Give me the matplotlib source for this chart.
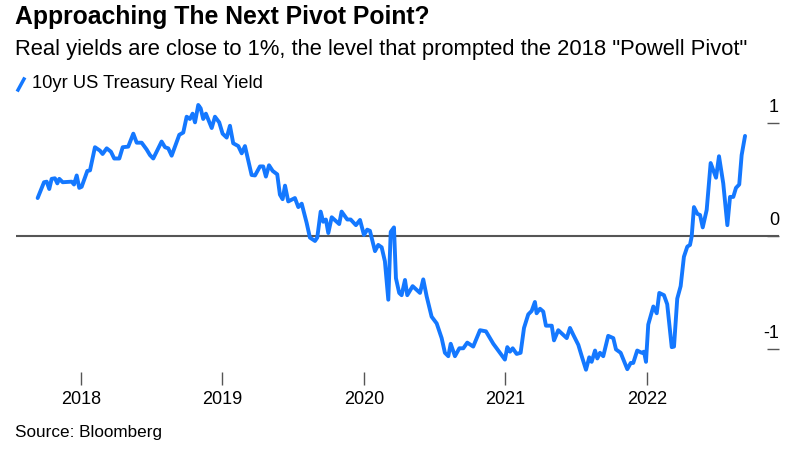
import matplotlib
matplotlib.use("Agg")
import matplotlib.pyplot as plt
import matplotlib.transforms as mtransforms

# fecha en años decimales (semanal aprox.), valor en %
anios = [
    2017.694, 2017.739, 2017.758, 2017.776, 2017.793, 2017.816, 2017.833, 2017.847,
    2017.871, 2017.934, 2017.951, 2017.970, 2017.988, 2018.005, 2018.045, 2018.064,
    2018.099, 2018.134, 2018.153, 2018.182, 2018.212, 2018.235, 2018.271, 2018.295,
    2018.334, 2018.370, 2018.394, 2018.429, 2018.464, 2018.488, 2018.511, 2018.570,
    2018.594, 2018.617, 2018.641, 2018.695, 2018.723, 2018.747, 2018.770, 2018.789,
    2018.806, 2018.829, 2018.846, 2018.864, 2018.883, 2018.924, 2018.947, 2018.977,
    2019.001, 2019.030, 2019.053, 2019.076, 2019.112, 2019.136, 2019.159, 2019.206,
    2019.230, 2019.265, 2019.288, 2019.307, 2019.329, 2019.355, 2019.387, 2019.406,
    2019.425, 2019.442, 2019.465, 2019.512, 2019.536, 2019.560, 2019.595, 2019.618,
    2019.654, 2019.670, 2019.694, 2019.712, 2019.731, 2019.748, 2019.772, 2019.825,
    2019.842, 2019.882, 2019.906, 2019.943, 2019.972, 2020.000, 2020.023, 2020.042,
    2020.078, 2020.101, 2020.125, 2020.148, 2020.172, 2020.189, 2020.212, 2020.226,
    2020.249, 2020.266, 2020.290, 2020.306, 2020.344, 2020.396, 2020.419, 2020.443,
    2020.478, 2020.514, 2020.549, 2020.572, 2020.596, 2020.613, 2020.643, 2020.674,
    2020.702, 2020.730, 2020.772, 2020.820, 2020.862, 2020.914, 2020.961, 2020.996,
    2021.013, 2021.032, 2021.051, 2021.079, 2021.107, 2021.131, 2021.161, 2021.185,
    2021.208, 2021.220, 2021.244, 2021.267, 2021.286, 2021.327, 2021.343, 2021.373,
    2021.433, 2021.456, 2021.479, 2021.515, 2021.539, 2021.569, 2021.592, 2021.609,
    2021.633, 2021.649, 2021.668, 2021.691, 2021.726, 2021.762, 2021.781, 2021.814,
    2021.861, 2021.885, 2021.903, 2021.931, 2021.963, 2021.979, 2021.993, 2022.009,
    2022.045, 2022.069, 2022.087, 2022.120, 2022.143, 2022.175, 2022.191, 2022.214,
    2022.238, 2022.261, 2022.285, 2022.304, 2022.316, 2022.332, 2022.356, 2022.375,
    2022.394, 2022.422, 2022.450, 2022.488, 2022.509, 2022.539, 2022.568, 2022.587,
    2022.610, 2022.629, 2022.652, 2022.669, 2022.693,
]
rendimiento_real = [
    0.34, 0.48, 0.485, 0.42, 0.51, 0.515, 0.47, 0.51,
    0.48, 0.485, 0.46, 0.54, 0.43, 0.44, 0.58, 0.585,
    0.79, 0.76, 0.73, 0.78, 0.75, 0.69, 0.69, 0.79,
    0.795, 0.91, 0.83, 0.83, 0.77, 0.72, 0.69, 0.84,
    0.79, 0.78, 0.715, 0.90, 0.92, 1.06, 1.04, 1.087,
    1.01, 1.164, 1.134, 1.04, 1.087, 0.96, 1.06, 1.01,
    0.91, 0.875, 0.98, 0.825, 0.80, 0.736, 0.80, 0.544,
    0.54, 0.62, 0.62, 0.53, 0.63, 0.58, 0.55, 0.37,
    0.33, 0.45, 0.31, 0.34, 0.26, 0.29, 0.12, -0.01,
    -0.04, -0.01, 0.22, 0.13, 0.15, 0.03, 0.17, 0.11,
    0.22, 0.15, 0.15, 0.10, 0.146, 0.013, 0.06, 0.05,
    -0.13, -0.075, -0.096, -0.22, -0.56, 0.04, 0.08, -0.37,
    -0.50, -0.52, -0.385, -0.52, -0.44, -0.50, -0.38, -0.53,
    -0.71, -0.77, -0.90, -1.03, -1.06, -0.95, -1.06, -0.99,
    -0.99, -0.94, -0.975, -0.83, -0.84, -0.95, -1.03, -1.09,
    -0.98, -1.02, -0.99, -1.04, -1.03, -0.81, -0.69, -0.66,
    -0.58, -0.68, -0.64, -0.665, -0.79, -0.79, -0.92, -0.83,
    -0.90, -0.81, -0.87, -0.96, -1.06, -1.18, -1.07, -1.11,
    -1.01, -1.08, -1.03, -1.06, -0.88, -0.90, -1.00, -1.03,
    -1.175, -1.12, -1.12, -1.01, -1.03, -1.02, -1.11, -0.78,
    -0.62, -0.68, -0.50, -0.52, -0.60, -0.98, -0.975, -0.55,
    -0.44, -0.18, -0.09, -0.075, 0.0, 0.26, 0.20, 0.19,
    0.08, 0.235, 0.65, 0.52, 0.71, 0.47, 0.10, 0.35,
    0.35, 0.43, 0.46, 0.72, 0.89,
]

anios_ticks = [2018, 2019, 2020, 2021, 2022]
etiquetas_x = ["2018", "2019", "2020", "2021", "2022"]
niveles_y = [1, 0, -1]
etiquetas_y = ["1", "0", "-1"]

AZUL = "#1478ff"
GRIS = "#555555"

plt.rcParams["font.family"] = ["Liberation Sans", "DejaVu Sans"]

fig = plt.figure(figsize=(8.03, 4.59), dpi=100)
ax = fig.add_axes([16 / 803, 1 - 372 / 459, 763 / 803, 272 / 459])

ax.plot(anios, rendimiento_real, color=AZUL, linewidth=2.8, solid_joinstyle="round",
        solid_capstyle="round", zorder=3)
ax.axhline(0, color=GRIS, linewidth=1.5, zorder=2)

ax.set_xlim(2017.541, 2022.933)
ax.set_ylim(-1.20, 1.208)

for lado in ["top", "left", "right", "bottom"]:
    ax.spines[lado].set_visible(False)

ax.set_xticks(anios_ticks)
ax.set_xticklabels(etiquetas_x, fontsize=13)
ax.tick_params(axis="x", direction="out", length=9, width=1, color=GRIS, pad=5)

ax.set_yticks(niveles_y)
ax.yaxis.set_ticks_position("right")
ax.tick_params(axis="y", direction="in", length=9, width=1, color=GRIS, labelright=False)

trans = mtransforms.blended_transform_factory(ax.transAxes, ax.transData)
for nivel, texto in zip(niveles_y, etiquetas_y):
    ax.text(1.0, nivel + 0.07, texto, transform=trans, ha="right", va="bottom", fontsize=13)

# textos de cabecera
fig.text(15 / 803, 1 - 17 / 459, "Approaching The Next Pivot Point?", fontsize=17.8,
         fontweight="bold", va="center", ha="left")
fig.text(15 / 803, 1 - 50 / 459,
         'Real yields are close to 1%, the level that prompted the 2018 "Powell Pivot"',
         fontsize=15.8, va="center", ha="left")
fig.lines.append(plt.Line2D([18 / 803, 24 / 803], [1 - 90 / 459, 1 - 79 / 459],
                            transform=fig.transFigure, color=AZUL, linewidth=2.5))
fig.text(32 / 803, 1 - 84 / 459, "10yr US Treasury Real Yield", fontsize=13.2,
         va="center", ha="left")
fig.text(15 / 803, 1 - 433 / 459, "Source: Bloomberg", fontsize=12.3, va="center", ha="left")

fig.savefig("out.png", dpi=100)
